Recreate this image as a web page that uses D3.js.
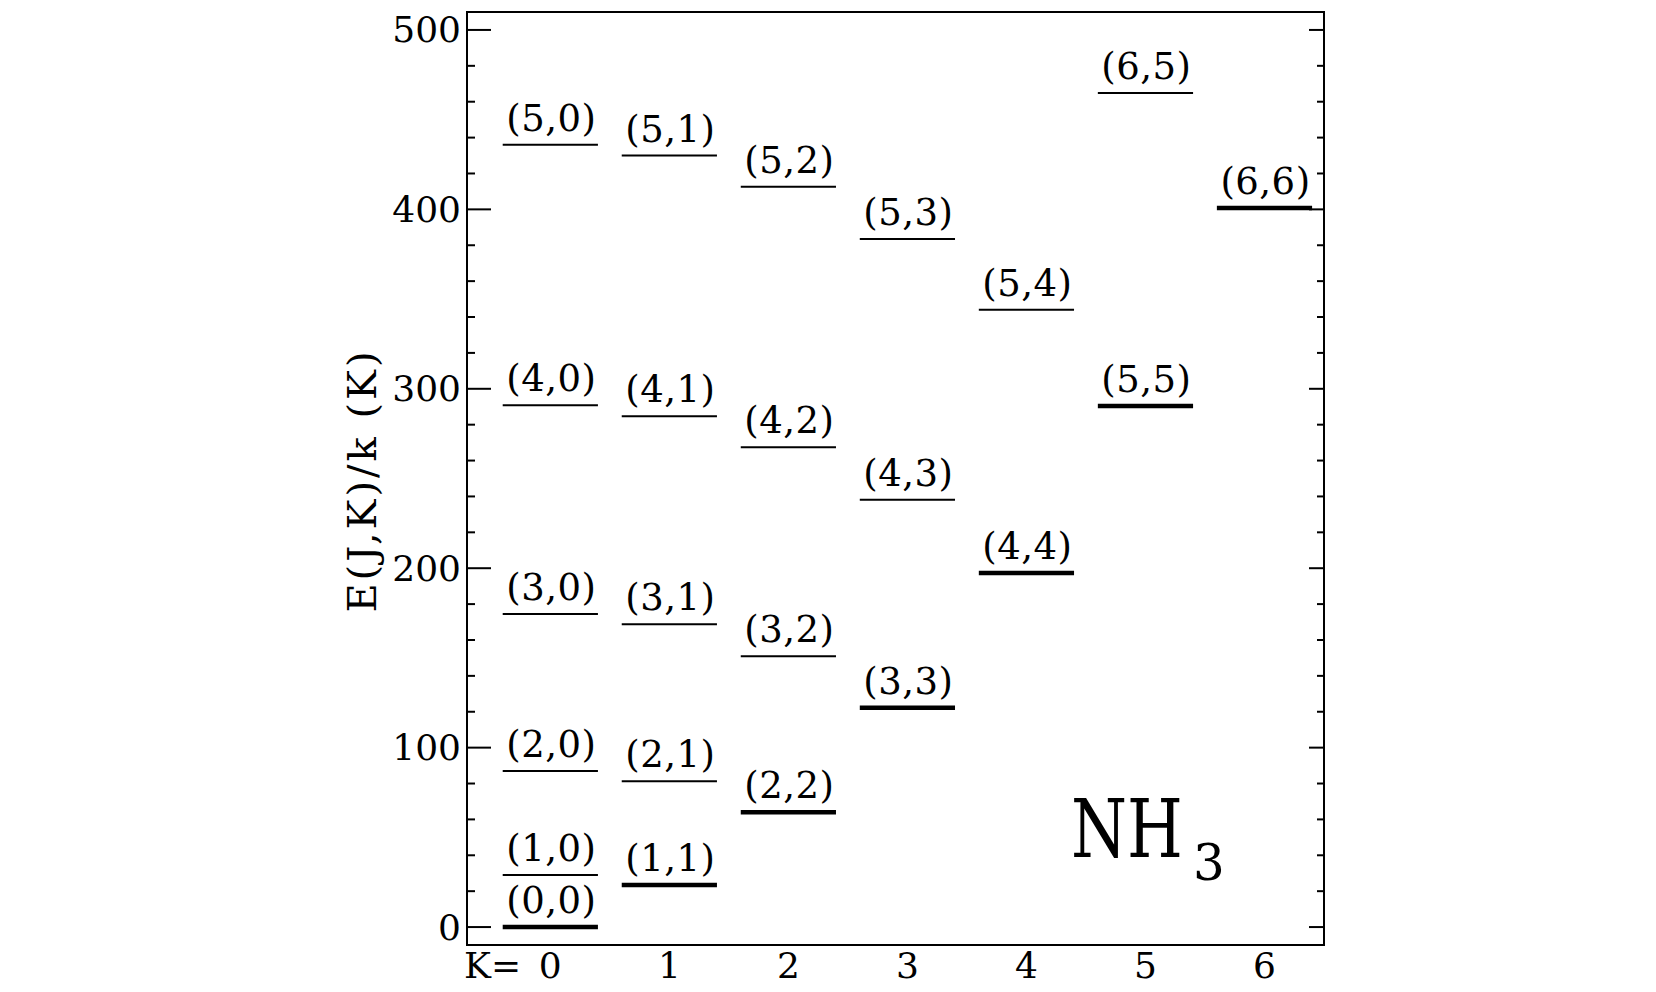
<!DOCTYPE html>
<html>
<head>
<meta charset="utf-8">
<script src="https://cdn.jsdelivr.net/npm/d3@7"></script>
<style>
  html, body { margin: 0; padding: 0; background: #fff; }
  svg { display: block; }
  text { font-family: "DejaVu Serif", serif; fill: #000; }
</style>
</head>
<body>
<svg id="chart" width="1656" height="992"></svg>
<script>
// ---- data ----
const levelJ = [0, 1, 2, 3, 4, 5, 1, 2, 3, 4, 5, 2, 3, 4, 5, 3, 4, 5, 4, 5, 5, 6, 6];
const levelK = [0, 0, 0, 0, 0, 0, 1, 1, 1, 1, 1, 2, 2, 2, 2, 3, 3, 3, 4, 4, 5, 5, 6];
const levelE = [0, 29, 87, 174.5, 290.8, 436, 23.4, 81.3, 168.8, 284.7, 430, 64, 151, 267.4, 412.6, 122.2, 238.2, 383.5, 197.4, 344, 290.4, 464.8, 400.7];
const kTicks = [0, 1, 2, 3, 4, 5, 6];
const yMajorTicks = [0, 100, 200, 300, 400, 500];
const yMinorTicks = d3.range(0, 501, 20);
const yTitle = "E(J,K)/k (K)";
const molecule = "NH";
const moleculeSub = "3";

// ---- layout ----
const svg = d3.select("#chart");
const pL = 467, pR = 1324, pT = 12, pB = 945;
const x = d3.scaleLinear().domain([-0.7, 6.5]).range([pL, pR]);
const y = d3.scaleLinear().domain([-10, 510]).range([pB, pT]);
const halfW = 0.4;

const levels = levelJ.map((j, i) => ({ J: j, K: levelK[i], E: levelE[i] }));

// frame
svg.append("rect")
  .attr("x", pL).attr("y", pT)
  .attr("width", pR - pL).attr("height", pB - pT)
  .attr("fill", "none").attr("stroke", "#000").attr("stroke-width", 2);

// left axis ticks (major long, minor short)
const gL = svg.append("g");
gL.selectAll("line").data(yMinorTicks).join("line")
  .attr("x1", pL).attr("x2", d => pL + (d % 100 === 0 ? 24 : 8))
  .attr("y1", d => y(d)).attr("y2", d => y(d))
  .attr("stroke", "#000").attr("stroke-width", 2);
gL.selectAll("text").data(yMajorTicks).join("text")
  .attr("x", pL - 6).attr("y", d => y(d))
  .attr("text-anchor", "end").attr("dominant-baseline", "central")
  .attr("font-size", 36)
  .text(d => d);

// right axis ticks
svg.append("g").selectAll("line").data(yMinorTicks).join("line")
  .attr("x1", pR).attr("x2", d => pR - (d % 100 === 0 ? 15 : 7))
  .attr("y1", d => y(d)).attr("y2", d => y(d))
  .attr("stroke", "#000").attr("stroke-width", 2);

// x labels
svg.append("g").selectAll("text").data(kTicks).join("text")
  .attr("x", d => x(d)).attr("y", 978)
  .attr("text-anchor", "middle")
  .attr("font-size", 36)
  .text(d => d);
svg.append("text")
  .attr("x", pL - 3).attr("y", 978)
  .attr("font-size", 36)
  .text("K=");

// y title
svg.append("text")
  .attr("transform", `translate(376,${(pT + pB) / 2 + 2}) rotate(-90)`)
  .attr("text-anchor", "middle")
  .attr("font-size", 40)
  .attr("letter-spacing", 3)
  .text(yTitle);

// levels
svg.append("g").selectAll("line").data(levels).join("line")
  .attr("x1", d => x(d.K - halfW)).attr("x2", d => x(d.K + halfW))
  .attr("y1", d => y(d.E)).attr("y2", d => y(d.E))
  .attr("stroke", "#000")
  .attr("stroke-width", d => d.J === d.K ? 4.5 : 2);

svg.append("g").selectAll("text").data(levels).join("text")
  .attr("x", d => x(d.K) + 1).attr("y", d => y(d.E) - 14)
  .attr("text-anchor", "middle")
  .attr("font-size", 37)
  .attr("letter-spacing", 0.5)
  .text(d => `(${d.J},${d.K})`);

// molecule label
svg.append("text")
  .attr("transform", "translate(1071,857) scale(0.8,1)")
  .attr("font-size", 80)
  .text(molecule);
svg.append("text")
  .attr("x", 1193).attr("y", 880)
  .attr("font-size", 50)
  .text(moleculeSub);
</script>
</body>
</html>
